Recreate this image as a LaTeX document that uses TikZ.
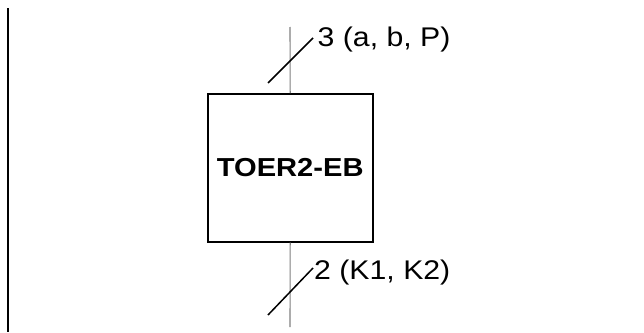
\documentclass[tikz,border=0pt]{standalone}
\usepackage{fontspec}
\setmainfont{Liberation Sans}
\newfontfamily\lblfont[FakeStretch=1.12]{Liberation Sans}
\begin{document}
\begin{tikzpicture}[x=1pt,y=-1pt,
  blockbox/.style={draw=black,line width=2pt,rectangle,inner sep=0pt,minimum width=165pt,minimum height=147.7pt,font=\lblfont\fontsize{26}{30}\selectfont\bfseries},
  bus/.style={draw={rgb,255:red,128;green,128;blue,128},line width=1.1pt},
  tick/.style={draw=black,line width=1.5pt},
  lbl/.style={inner sep=0pt,anchor=base west,font=\lblfont\fontsize{27}{30}\selectfont}]
\useasboundingbox (0,0) rectangle (644,332);
\draw[line width=2pt] (7.5,8) coordinate (ltop) -- (7.5,332) coordinate (lbot);
\node[blockbox] (blk) at (290.2,167.85) {TOER2-EB};
\coordinate (ttop) at (290,27);
\coordinate (bbot) at (290,327);
\draw[bus] (ttop) -- (blk.north);
\draw[bus] (blk.south) -- (bbot);
\coordinate (t1) at (268,83);
\coordinate (t2) at (313,38);
\coordinate (b1) at (268,315);
\coordinate (b2) at (313,268);
\draw[tick] (t1) -- (t2);
\draw[tick] (b1) -- (b2);
\node[lbl] (lt) at (317.5,46.7) {3 (a, b, P)};
\node[lbl] (lb) at (314,279) {2 (K1, K2)};
\end{tikzpicture}
\end{document}
